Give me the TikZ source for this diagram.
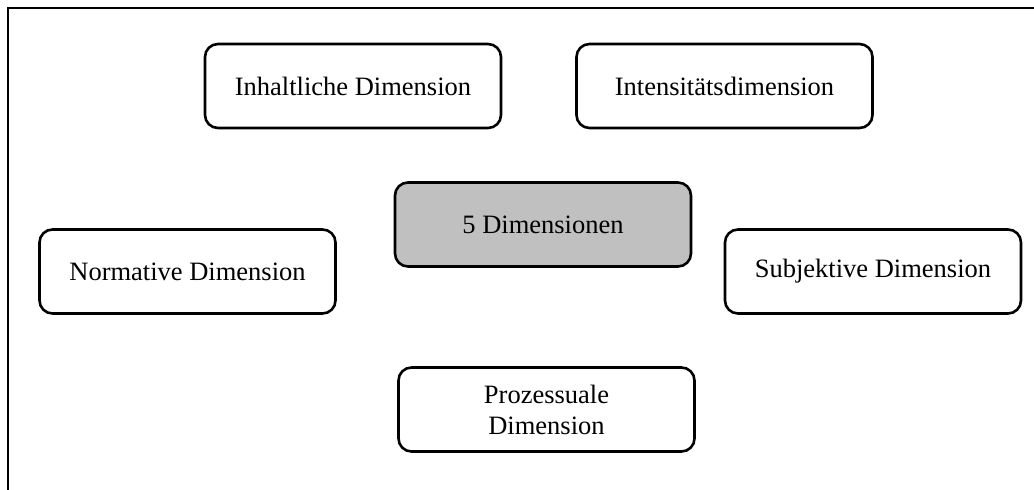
\documentclass[tikz,border=0pt]{standalone}
\usepackage{fontspec}
\setmainfont{Liberation Serif}
\begin{document}
\begin{tikzpicture}[x=1pt,y=-1pt,
  dimbox/.style={draw=black, line width=2.6pt, rounded corners=13pt, fill=white,
    minimum width=296pt, minimum height=84pt, inner sep=0pt, align=center,
    font=\fontsize{26.5}{31}\selectfont},
  hubbox/.style={dimbox, fill=hubgray}]
\definecolor{hubgray}{HTML}{C0C0C0}
\useasboundingbox (0,0) rectangle (1034,490);
% open frame: only top and left edges
\coordinate (ftl) at (8,8);
\coordinate (ftr) at (1034,8);
\coordinate (fbl) at (8,490);
\draw[line width=2.8pt] (ftr) -- (ftl) -- (fbl);
% dimension boxes
\node[dimbox] (inhalt) at (353,86) {Inhaltliche Dimension};
\node[dimbox] (intens) at (724.5,86) {Intensitätsdimension};
\node[hubbox] (hub) at (543,224.5) {5 Dimensionen};
\node[dimbox] (norm) at (187.5,271.5) {Normative Dimension};
\node[dimbox] (subj) at (873,271.5) {Subjektive Dimension};
\node[dimbox] (proz) at (546.5,409.5) {Prozessuale\\Dimension};
\end{tikzpicture}
\end{document}
